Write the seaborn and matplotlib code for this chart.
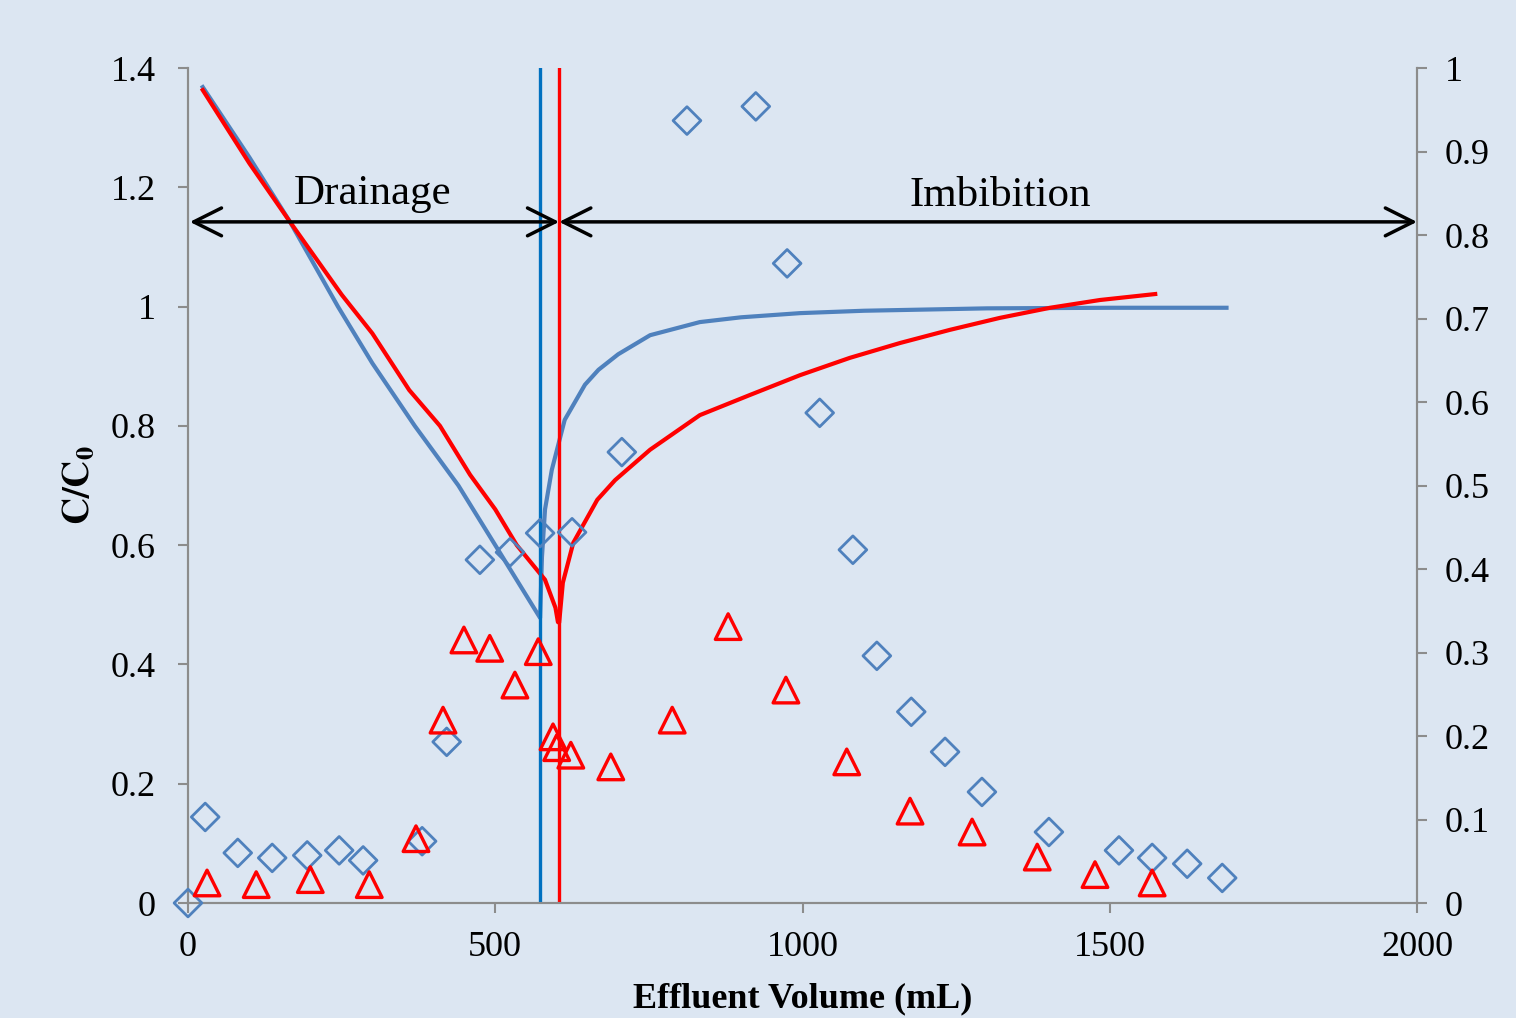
import numpy as np
import pandas as pd
import matplotlib
matplotlib.use("Agg")
import matplotlib.pyplot as plt
import seaborn as sns

# ---- data ----
blue_line_x = [24, 100, 166, 244, 300, 369, 440, 500, 573, 576, 581, 592, 613, 646, 668, 700,
               752, 833, 900, 996, 1100, 1300, 1500, 1690]
blue_line_y = [1.368, 1.25, 1.142, 1.0, 0.905, 0.80, 0.70, 0.60, 0.478, 0.58, 0.66, 0.726, 0.81,
               0.869, 0.894, 0.92, 0.952, 0.974, 0.982, 0.989, 0.993, 0.997, 0.998, 0.998]
red_line_x = [24, 100, 166, 250, 300, 360, 410, 459, 500, 535, 581, 598, 602, 604, 610, 627, 666,
              695, 752, 833, 915, 996, 1077, 1159, 1240, 1321, 1403, 1484, 1574]
red_line_y = [1.363, 1.24, 1.142, 1.02, 0.955, 0.86, 0.80, 0.718, 0.66, 0.60, 0.542, 0.495, 0.471,
              0.47, 0.537, 0.604, 0.676, 0.709, 0.76, 0.818, 0.852, 0.885, 0.914, 0.939, 0.961,
              0.981, 0.998, 1.011, 1.021]

diamond_x = [0, 28, 81, 137, 194, 246, 285, 381, 421, 475, 524, 573, 625, 706, 812, 924, 975,
             1028, 1082, 1121, 1177, 1232, 1292, 1401, 1515, 1569, 1626, 1683]
diamond_y = [0.0, 0.103, 0.060, 0.054, 0.057, 0.063, 0.051, 0.074, 0.193, 0.411, 0.420, 0.443,
             0.444, 0.540, 0.937, 0.954, 0.766, 0.587, 0.423, 0.296, 0.229, 0.181, 0.133, 0.085,
             0.063, 0.054, 0.047, 0.030]
triangle_x = [31, 111, 199, 295, 371, 415, 449, 491, 532, 570, 594, 600, 623, 688, 788, 879, 973,
              1072, 1175, 1276, 1382, 1476, 1569]
triangle_y = [0.024, 0.022, 0.028, 0.022, 0.077, 0.219, 0.315, 0.305, 0.261, 0.301, 0.199, 0.186,
              0.177, 0.163, 0.219, 0.331, 0.255, 0.169, 0.110, 0.085, 0.055, 0.034, 0.024]

drain_end = 573
imbib_start = 604
left_ticks = [0, 0.2, 0.4, 0.6, 0.8, 1, 1.2, 1.4]
left_labels = ["0", "0.2", "0.4", "0.6", "0.8", "1", "1.2", "1.4"]
right_ticks = [0, 0.1, 0.2, 0.3, 0.4, 0.5, 0.6, 0.7, 0.8, 0.9, 1]
right_labels = ["0", "0.1", "0.2", "0.3", "0.4", "0.5", "0.6", "0.7", "0.8", "0.9", "1"]
x_ticks = [0, 500, 1000, 1500, 2000]
x_labels = ["0", "500", "1000", "1500", "2000"]

# ---- style ----
BG = "#DCE6F2"
SPINE = "#8C8C8C"
plt.rcParams["font.family"] = ["Liberation Serif", "DejaVu Serif"]
plt.rcParams["mathtext.fontset"] = "stix"

fig = plt.figure(figsize=(15.16, 10.18), dpi=100, facecolor=BG)
ax = fig.add_axes([188 / 1516, 1 - 903 / 1018, (1417 - 188) / 1516, (903 - 68) / 1018])
ax.set_facecolor(BG)
ax2 = ax.twinx()
ax2.patch.set_visible(False)

blue_df = pd.DataFrame({"x": blue_line_x, "y": blue_line_y})
red_df = pd.DataFrame({"x": red_line_x, "y": red_line_y})
dia_df = pd.DataFrame({"x": diamond_x, "y": diamond_y})
tri_df = pd.DataFrame({"x": triangle_x, "y": triangle_y})

sns.lineplot(data=blue_df, x="x", y="y", ax=ax, sort=False, estimator=None,
             color="#4F81BD", linewidth=3.0, zorder=3)
sns.lineplot(data=red_df, x="x", y="y", ax=ax, sort=False, estimator=None,
             color="#FF0000", linewidth=3.0, zorder=4)

ax.axvline(drain_end, ymin=0, ymax=1, color="#0070C0", linewidth=2.4, zorder=5)
ax.axvline(imbib_start, ymin=0, ymax=1, color="#FF0000", linewidth=2.4, zorder=5)

sns.scatterplot(data=dia_df, x="x", y="y", ax=ax2, marker="D", s=200,
                facecolor="none", edgecolor="#4F81BD", linewidth=2.0, zorder=3, clip_on=False)
sns.scatterplot(data=tri_df, x="x", y="y", ax=ax2, marker="^", s=340,
                facecolor="none", edgecolor="#FF0000", linewidth=2.4, zorder=3, clip_on=False)
for coll, ec in zip(ax2.collections, ["#4F81BD", "#FF0000"]):
    coll.set_facecolor("none")
    coll.set_edgecolor(ec)

# arrows and text
arrow_y = 1.142
aprops = dict(arrowstyle="<->,head_length=0.4,head_width=0.2", lw=2.5, color="black",
              mutation_scale=50, shrinkA=0, shrinkB=0)
ax.annotate("", xy=(3, arrow_y), xytext=(imbib_start, arrow_y), arrowprops=aprops, zorder=6)
ax.annotate("", xy=(imbib_start, arrow_y), xytext=(2000, arrow_y), arrowprops=aprops,
            zorder=6, annotation_clip=False)
ax.text(301, 1.19, "Drainage", fontsize=31, ha="center", va="center")
ax.text(1321, 1.185, "Imbibition", fontsize=31, ha="center", va="center")

# axes
ax.set_xlim(0, 2000)
ax.set_ylim(0, 1.4)
ax2.set_ylim(0, 1)
ax.set_xticks(x_ticks)
ax.set_xticklabels(x_labels)
ax.set_yticks(left_ticks)
ax.set_yticklabels(left_labels)
ax2.set_yticks(right_ticks)
ax2.set_yticklabels(right_labels)

for a in (ax, ax2):
    a.spines["top"].set_visible(False)
    for side in ("left", "right", "bottom"):
        a.spines[side].set_color(SPINE)
        a.spines[side].set_linewidth(1.5)
    a.tick_params(axis="both", direction="out", length=7, width=1.5, color=SPINE,
                  labelsize=26, pad=13)
ax.tick_params(axis="y", pad=16)
ax.grid(False)
ax2.grid(False)

ax.set_xlabel("Effluent Volume (mL)", fontsize=26, fontweight="bold", labelpad=13)
ax.set_ylabel(r"$\mathbf{C/C_0}$", fontsize=27, labelpad=10)
ax2.set_ylabel("")

fig.savefig("out.png", dpi=100, facecolor=BG)
